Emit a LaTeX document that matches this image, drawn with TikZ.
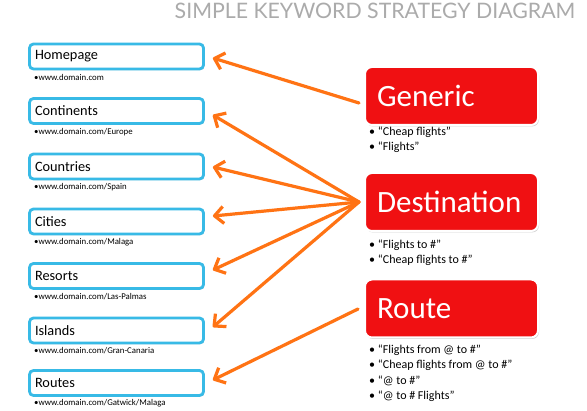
\documentclass[tikz,border=0pt]{standalone}
\usepackage{fontspec}
\setmainfont{Carlito}
\newfontfamily\titlefont{Lato}
\usetikzlibrary{arrows.meta,shadows,calc}
\definecolor{boxblue}{RGB}{56,186,230}
\definecolor{keyred}{RGB}{240,16,18}
\definecolor{arrorange}{RGB}{255,115,20}
\begin{document}
\begin{tikzpicture}[x=1pt,y=-1pt,
 page/.style={draw=boxblue, line width=2.8pt, rounded corners=4pt, fill=white, minimum width=174pt, minimum height=25pt, text width=163pt, inner xsep=5.5pt, inner ysep=0pt, align=left, font=\fontsize{14.3}{16}\selectfont, drop shadow={opacity=0.3,shadow xshift=1pt,shadow yshift=-1.2pt}},
 url/.style={anchor=west, inner sep=0pt, font=\fontsize{8.8}{9}\selectfont},
 key/.style={fill=keyred, draw=white, line width=2pt, rounded corners=7pt, minimum width=173pt, minimum height=58pt, text width=149pt, inner xsep=12pt, align=left, text=white, font=\fontsize{31}{34}\selectfont, drop shadow={opacity=0.35, shadow xshift=1pt, shadow yshift=-1.5pt}},
 terms/.style={anchor=north west, inner sep=0pt, align=left, font=\fontsize{12}{15.4}\selectfont},
 arr/.style={draw=arrorange, line width=3.2pt, line cap=round, -{Straight Barb[length=9pt,width=17pt,line join=round]}}
]
\fill[white] (0,0) rectangle (587,411);
\path[use as bounding box] (0,0) rectangle (587,411);

\node[font=\titlefont\fontsize{21.3}{22}\selectfont, text=black!33] (title) at (375,11) {SIMPLE KEYWORD STRATEGY DIAGRAM};

\node[page] (home) at (116.5,56.5) {Homepage};
\node[page] (cont) at (116.5,111) {Continents};
\node[page] (ctry) at (116.5,166.5) {Countries};
\node[page] (city) at (116.5,221.5) {Cities};
\node[page] (res) at (116.5,276) {Resorts};
\node[page] (isl) at (116.5,330.5) {Islands};
\node[page] (rts) at (116.5,383) {Routes};

\node[url] (u1) at (34,77) {•www.domain.com};
\node[url] (u2) at (34,132) {•www.domain.com/Europe};
\node[url] (u3) at (34,187) {•www.domain.com/Spain};
\node[url] (u4) at (34,242) {•www.domain.com/Malaga};
\node[url] (u5) at (34,296.5) {•www.domain.com/Las-Palmas};
\node[url] (u6) at (34,351) {•www.domain.com/Gran-Canaria};
\node[url] (u7) at (34,403) {•www.domain.com/Gatwick/Malaga};

\node[key] (gen) at (451.5,96) {Generic};
\node[key] (dest) at (451.5,202) {Destination};
\node[key] (route) at (451.5,308.5) {Route};

\node[terms] (t1) at (369,126.5) {• “Cheap flights”\\• “Flights”};
\node[terms] (t2) at (369,239.5) {• “Flights to \#”\\• “Cheap flights to \#”};
\node[terms] (t3) at (369,344.5) {• “Flights from @ to \#”\\• “Cheap flights from @ to \#”\\• “@ to \#”\\• “@ to \# Flights”};

\draw[arr] ($(gen.west)+(-5,7)$) -- ($(home.east)+(8,1.5)$);
\draw[arr] ($(dest.west)+(-5,0)$) -- ($(cont.east)+(8,4)$);
\draw[arr] ($(dest.west)+(-5,0)$) -- ($(ctry.east)+(8,0.5)$);
\draw[arr] ($(dest.west)+(-5,0)$) -- ($(city.east)+(8,-5.5)$);
\draw[arr] ($(dest.west)+(-5,0)$) -- ($(res.east)+(8,-6)$);
\draw[arr] ($(dest.west)+(-5,0)$) -- ($(isl.east)+(8,-3.5)$);
\draw[arr] ($(route.west)+(-6,0.5)$) -- ($(rts.east)+(8,-3)$);
\end{tikzpicture}
\end{document}
